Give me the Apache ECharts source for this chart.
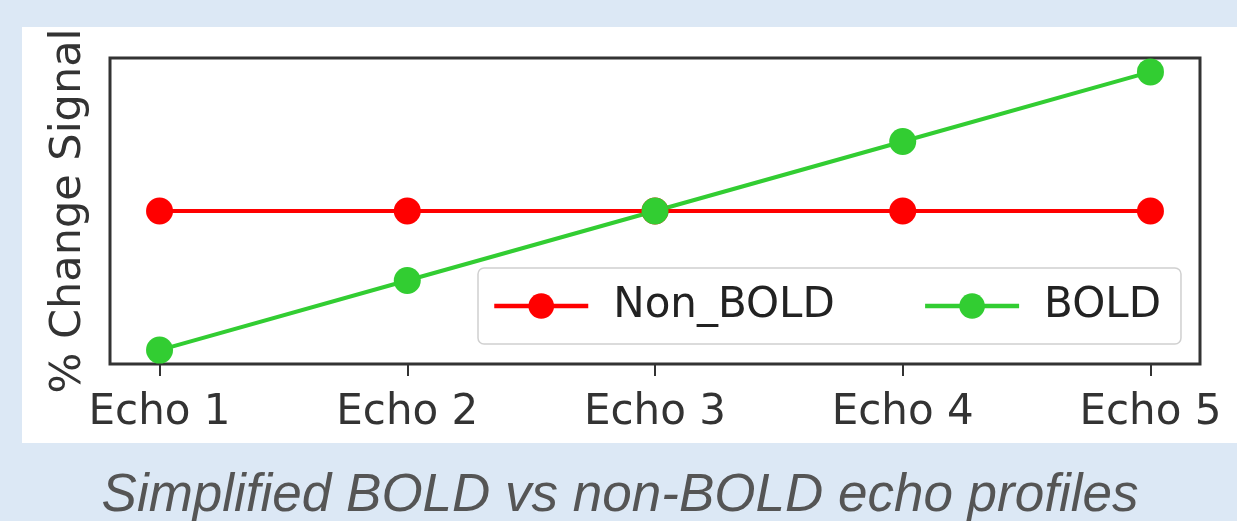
<!DOCTYPE html>
<html>
<head>
<meta charset="utf-8">
<script src="https://cdn.jsdelivr.net/npm/echarts@6/dist/echarts.min.js"></script>
<style>
  html, body { margin: 0; padding: 0; background: #dce8f5; }
  #main { width: 1237px; height: 521px; }
</style>
</head>
<body>
<div id="main"></div>
<script>
const categories = ["Echo 1", "Echo 2", "Echo 3", "Echo 4", "Echo 5"];
const nonBold = [3, 3, 3, 3, 3];
const bold = [1, 2, 3, 4, 5];

const chart = echarts.init(document.getElementById("main"));
const font = "DejaVu Sans";

function pts(vals) {
  return vals.map((v, i) => [i, v]);
}

const option = {
  backgroundColor: "#dce8f5",
  animation: false,
  textStyle: { fontFamily: font },
  graphic: [
    {
      type: "rect",
      z: -10,
      shape: { x: 22, y: 27, width: 1215, height: 416 },
      style: { fill: "#ffffff" }
    },
    {
      type: "text",
      x: 620,
      y: 496,
      style: {
        text: "Simplified BOLD vs non-BOLD echo profiles",
        fontFamily: "Liberation Sans",
        fontStyle: "italic",
        fontSize: 53,
        fill: "#555555",
        align: "center",
        verticalAlign: "middle"
      }
    }
  ],
  grid: {
    left: 110,
    top: 58,
    right: 37,
    bottom: 157,
    show: true,
    borderColor: "#333333",
    borderWidth: 3,
    backgroundColor: "#ffffff"
  },
  legend: {
    left: 478,
    top: 268,
    orient: "horizontal",
    padding: [17, 20, 17, 14],
    itemGap: 88,
    itemWidth: 94,
    itemHeight: 32,
    borderColor: "#d0d0d0",
    borderWidth: 1.5,
    borderRadius: 6,
    backgroundColor: "rgba(255,255,255,0.85)",
    lineStyle: { width: 4.5 },
    textStyle: { fontSize: 42, color: "#222222", fontFamily: font, padding: [0, 0, 0, 20] },
    data: ["Non_BOLD", "BOLD"]
  },
  xAxis: {
    type: "value",
    min: -0.2,
    max: 4.2,
    splitLine: { show: false },
    axisLine: { show: false },
    axisTick: {
      show: true,
      customValues: [0, 1, 2, 3, 4],
      length: 12,
      lineStyle: { color: "#333333", width: 2 }
    },
    axisLabel: {
      customValues: [0, 1, 2, 3, 4],
      formatter: v => categories[Math.round(v)],
      fontSize: 42,
      color: "#333333",
      margin: 28
    }
  },
  yAxis: {
    type: "value",
    min: 0.8,
    max: 5.2,
    splitLine: { show: false },
    axisLine: { show: false },
    axisTick: { show: false },
    axisLabel: { show: false },
    name: "% Change Signal",
    nameLocation: "middle",
    nameGap: 20,
    nameTextStyle: { fontSize: 43, color: "#333333", fontFamily: font }
  },
  series: [
    {
      name: "Non_BOLD",
      type: "line",
      data: pts(nonBold),
      symbol: "circle",
      symbolSize: 27,
      itemStyle: { color: "#ff0000" },
      lineStyle: { color: "#ff0000", width: 4 }
    },
    {
      name: "BOLD",
      type: "line",
      data: pts(bold),
      symbol: "circle",
      symbolSize: 27,
      itemStyle: { color: "#32cd32" },
      lineStyle: { color: "#32cd32", width: 4 }
    }
  ]
};

chart.setOption(option);
</script>
</body>
</html>
